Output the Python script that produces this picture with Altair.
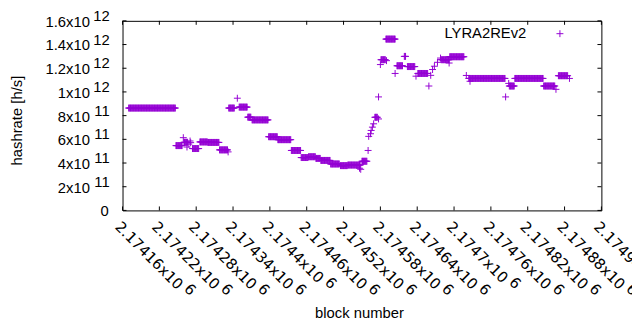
import altair as alt
import pandas as pd

# constant-hashrate stretches: first block, last block, hashrate (x1e12 h/s)
run_start = [2174170, 2174247, 2174260, 2174274, 2174286, 2174299, 2174318, 2174333,
             2174350, 2174364, 2174371, 2174398, 2174413, 2174435, 2174451, 2174463,
             2174475, 2174483, 2174499, 2174515, 2174527, 2174550, 2174571, 2174581,
             2174589, 2174607, 2174619, 2174624, 2174641, 2174679, 2174693, 2174724,
             2174790, 2174799, 2174846, 2174870]
run_end = [2174246, 2174257, 2174266, 2174284, 2174298, 2174317, 2174331, 2174342,
           2174363, 2174369, 2174397, 2174412, 2174434, 2174450, 2174462, 2174474,
           2174482, 2174498, 2174513, 2174526, 2174547, 2174558, 2174575, 2174588,
           2174604, 2174616, 2174621, 2174636, 2174657, 2174692, 2174716, 2174783,
           2174798, 2174845, 2174864, 2174885]
run_rate = [0.864, 0.547, 0.575, 0.522, 0.578, 0.574, 0.511, 0.864,
            0.872, 0.787, 0.764, 0.622, 0.597, 0.506, 0.446, 0.453,
            0.439, 0.422, 0.392, 0.378, 0.383, 0.415, 0.786, 1.272,
            1.446, 1.221, 1.300, 1.214, 1.156, 1.272, 1.297, 1.114,
            1.050, 1.114, 1.050, 1.137]

# isolated samples
pt_block = [2174259, 2174265, 2174268, 2174270, 2174271, 2174332, 2174347, 2174546,
            2174548, 2174552, 2174560, 2174561, 2174564, 2174565, 2174567, 2174569,
            2174577, 2174577, 2174580, 2174590, 2174604, 2174638, 2174659, 2174662,
            2174665, 2174668, 2174673, 2174678, 2174692, 2174720, 2174726, 2174784,
            2174789, 2174866, 2174888]
pt_rate = [0.614, 0.535, 0.560, 0.586, 0.572, 0.494, 0.947, 0.356,
           0.347, 0.411, 0.506, 0.625, 0.647, 0.675, 0.703, 0.731,
           0.772, 0.958, 1.231, 1.264, 1.156, 1.133, 1.050, 1.140,
           1.189, 1.217, 1.250, 1.286, 1.244, 1.139, 1.090, 0.958,
           1.072, 1.022, 1.114]

x_tick_vals = [2174160, 2174220, 2174280, 2174340, 2174400, 2174460, 2174520,
               2174580, 2174640, 2174700, 2174760, 2174820, 2174880, 2174940]
x_tick_mant = ["2.17416x10", "2.17422x10", "2.17428x10", "2.17434x10", "2.1744x10",
               "2.17446x10", "2.17452x10", "2.17458x10", "2.17464x10", "2.1747x10",
               "2.17476x10", "2.17482x10", "2.17488x10", "2.17494x10"]
x_tick_exp = ["6"] * 14

y_tick_vals = [0, 2e11, 4e11, 6e11, 8e11, 1e12, 1.2e12, 1.4e12, 1.6e12]
y_tick_mant = ["0", "2x10", "4x10", "6x10", "8x10", "1x10", "1.2x10", "1.4x10", "1.6x10"]
y_tick_exp = ["", "11", "11", "11", "11", "12", "12", "12", "12"]

series_name = "LYRA2REv2"
x_title = "block number"
y_title = "hashrate [h/s]"

rows = []
for s, e, r in zip(run_start, run_end, run_rate):
    for b in range(s, e + 1):
        rows.append({"block": b, "rate": r * 1e12})
for b, r in zip(pt_block, pt_rate):
    rows.append({"block": b, "rate": r * 1e12})
df = pd.DataFrame(rows)

xt = pd.DataFrame({"v": x_tick_vals, "mant": x_tick_mant, "exp": x_tick_exp})
yt = pd.DataFrame({"v": y_tick_vals, "mant": y_tick_mant, "exp": y_tick_exp})

W, H = 485, 192
COLOR = "#9400D3"
PLUS = "M-1,0L1,0M0,-1L0,1"
FONT = "Liberation Sans"

xs = alt.Scale(domain=[2174160, 2174940], nice=False, zero=False)
ys = alt.Scale(domain=[0, 1.6e12], nice=False, zero=False)

points = alt.Chart(df).mark_point(shape=PLUS, filled=False, color=COLOR,
                                  strokeWidth=1, size=49, opacity=1).encode(
    x=alt.X("block:Q", scale=xs, axis=None),
    y=alt.Y("rate:Q", scale=ys, axis=None),
)

ytick_l = alt.Chart(yt).mark_rule(color="black", strokeWidth=1).encode(
    y=alt.Y("v:Q", scale=ys, axis=None), x=alt.value(0), x2=alt.value(4))
ytick_r = alt.Chart(yt).mark_rule(color="black", strokeWidth=1).encode(
    y=alt.Y("v:Q", scale=ys, axis=None), x=alt.value(W - 4), x2=alt.value(W))
xtick_b = alt.Chart(xt).mark_rule(color="black", strokeWidth=1).encode(
    x=alt.X("v:Q", scale=xs, axis=None), y=alt.value(H - 4), y2=alt.value(H))
xtick_t = alt.Chart(xt).mark_rule(color="black", strokeWidth=1).encode(
    x=alt.X("v:Q", scale=xs, axis=None), y=alt.value(0), y2=alt.value(4))

ylab_m = alt.Chart(yt).transform_filter("datum.exp != ''").mark_text(
    align="right", baseline="middle", font=FONT, fontSize=15, dy=1, color="black").encode(
    y=alt.Y("v:Q", scale=ys, axis=None), x=alt.value(-33), text="mant:N")
ylab_e = alt.Chart(yt).transform_filter("datum.exp != ''").mark_text(
    align="right", baseline="middle", font=FONT, fontSize=15, dy=-5, color="black").encode(
    y=alt.Y("v:Q", scale=ys, axis=None), x=alt.value(-13), text="exp:N")
ylab_0 = alt.Chart(yt).transform_filter("datum.exp == ''").mark_text(
    align="right", baseline="middle", font=FONT, fontSize=15, dy=1, color="black").encode(
    y=alt.Y("v:Q", scale=ys, axis=None), x=alt.value(-14), text="mant:N")

XFONT = "DejaVu Sans"
xlab_m = alt.Chart(xt).mark_text(
    align="left", baseline="top", font=XFONT, fontSize=15, angle=45, color="black").encode(
    x=alt.X("v:Q", scale=xs, axis=None), y=alt.value(H + 9), text="mant:N")
xlab_e_long = alt.Chart(xt).transform_filter("length(datum.mant) == 10").mark_text(
    align="left", baseline="top", font=XFONT, fontSize=15, angle=45, dx=94, dy=-5,
    color="black").encode(
    x=alt.X("v:Q", scale=xs, axis=None), y=alt.value(H + 9), text="exp:N")
xlab_e_short = alt.Chart(xt).transform_filter("length(datum.mant) == 9").mark_text(
    align="left", baseline="top", font=XFONT, fontSize=15, angle=45, dx=84.5, dy=-5,
    color="black").encode(
    x=alt.X("v:Q", scale=xs, axis=None), y=alt.value(H + 9), text="exp:N")

ytitle = alt.Chart(pd.DataFrame({"t": [y_title]})).mark_text(
    align="center", baseline="middle", font=FONT, fontSize=15, angle=270, color="black").encode(
    x=alt.value(-107), y=alt.value(101), text="t:N")
xtitle = alt.Chart(pd.DataFrame({"t": [x_title]})).mark_text(
    align="center", baseline="middle", font=FONT, fontSize=15, color="black").encode(
    x=alt.value(240), y=alt.value(296), text="t:N")

leg_text = alt.Chart(pd.DataFrame({"t": [series_name]})).mark_text(
    align="right", baseline="middle", font=FONT, fontSize=15, color="black").encode(
    x=alt.value(409), y=alt.value(12), text="t:N")
leg_sym = alt.Chart(pd.DataFrame({"t": [series_name]})).mark_point(
    shape=PLUS, filled=False, color=COLOR, strokeWidth=1, size=49, opacity=1).encode(
    x=alt.value(443), y=alt.value(13))

chart = alt.layer(
    points, ytick_l, ytick_r, xtick_b, xtick_t,
    ylab_m, ylab_e, ylab_0, xlab_m, xlab_e_long, xlab_e_short,
    ytitle, xtitle, leg_text, leg_sym,
).properties(
    width=W, height=H,
    autosize=alt.AutoSizeParams(type="none"),
    padding={"left": 116, "top": 11, "right": 31, "bottom": 111},
    background="white",
).configure_view(stroke="black", strokeWidth=1)

chart.save("out.html", embed_options={"renderer": "svg", "actions": False})
